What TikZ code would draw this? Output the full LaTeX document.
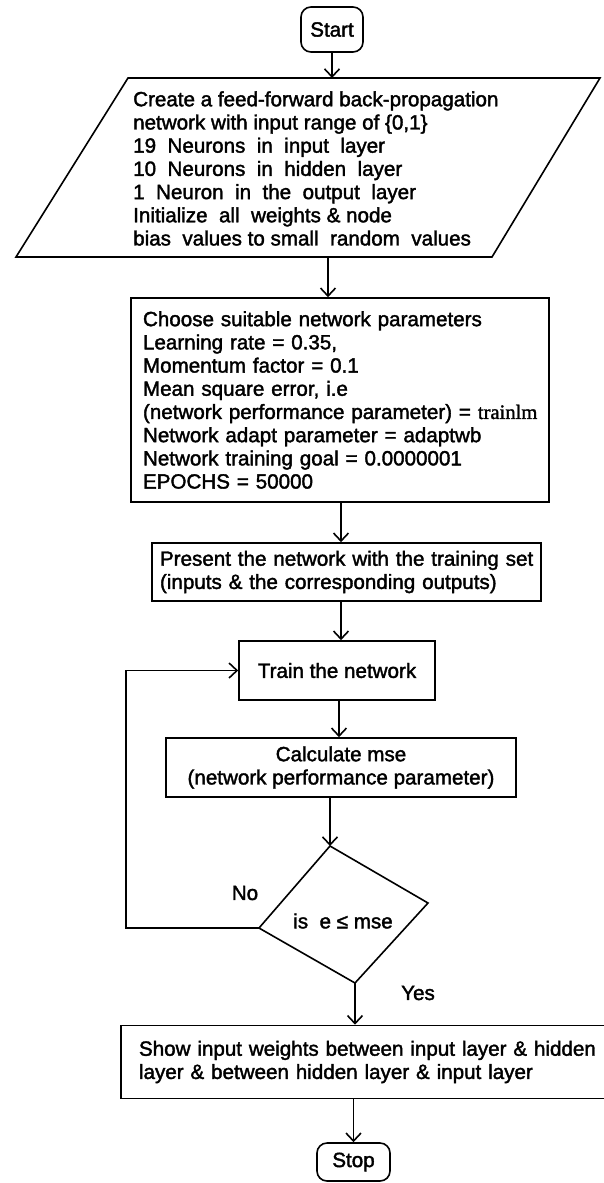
\documentclass[tikz,border=0pt]{standalone}
\usepackage{fontspec}
\setmainfont{Liberation Sans}[FakeBold=1.8]
\newfontfamily\serifx{Liberation Serif}[FakeBold=1.5]
\usetikzlibrary{arrows.meta,calc}
\tikzset{
  ln/.style={line width=1.6pt},
  arr/.style={ln,-{Straight Barb[length=8pt,width=15pt,line width=1.6pt]}},
  boxx/.style={ln,draw,rectangle,inner ysep=0pt,align=left,anchor=center},
  term/.style={ln,draw,rectangle,rounded corners=10pt,inner sep=0pt},
  txt/.style={font=\fontsize{20.6}{23.2}\selectfont}
}
\begin{document}
\begin{tikzpicture}[x=1pt,y=-1pt,txt]
\useasboundingbox (0,0) rectangle (604,1183);
% Start
\node[term,minimum width=62pt,minimum height=45pt] (start) at (332,29.5) {Start};
% parallelogram
\coordinate (ptl) at (128,78);
\coordinate (ptr) at (600,78);
\coordinate (pbr) at (492,257);
\coordinate (pbl) at (16,257);
\draw[ln,line join=miter] (ptl) -- (ptr) -- (pbr) -- (pbl) -- cycle;
\coordinate (ptop) at (332,78);
\coordinate (pbot) at (328,257);
\node[anchor=west,align=left,inner sep=0pt] (ptext) at (133,168.5) {Create a feed-forward back-propagation\\
network with input range of \{0,1\}\\
19~ Neurons~ in~ input~ layer\\
10~ Neurons~ in~ hidden~ layer\\
1~ Neuron~ in~ the~ output~ layer\\
Initialize~ all~ weights \& node\\
bias~ values to small~ random~ values};
% box 2
\node[boxx,minimum width=418pt,minimum height=204pt,text width=394pt,inner xsep=12pt] (params) at (340,400) {Choose suitable network parameters\\
Learning rate = 0.35,\\
Momentum factor = 0.1\\
Mean square error, i.e\\
\mbox{(network performance parameter) = {\serifx trainlm}}\\
Network adapt parameter = adaptwb\\
Network training goal = 0.0000001\\
EPOCHS = 50000};
% present
\node[boxx,minimum width=389pt,minimum height=58pt,text width=373pt,inner xsep=8pt] (present) at (346.5,572) {\mbox{Present the network with the training set}\\
(inputs \& the corresponding outputs)};
% train
\node[boxx,minimum width=196pt,minimum height=59pt,align=center] (train) at (337,670.5) {Train the network};
% calc
\node[boxx,minimum width=350pt,minimum height=59pt,align=center] (calc) at (341,767.5) {Calculate mse\\(network performance parameter)};
% decision
\coordinate (dtop) at (330,846);
\coordinate (dright) at (428,903);
\coordinate (dbot) at (355,983);
\coordinate (dleft) at (259,928);
\draw[ln,line join=miter] (dtop) -- (dright) -- (dbot) -- (dleft) -- cycle;
\node (cond) at (343,921) {is~ e ≤ mse};
\node (no) at (245,893) {No};
\node (yes) at (418,993) {Yes};
% show
\node[boxx,minimum width=510pt,minimum height=73pt,text width=474pt,inner xsep=18pt] (show) at (376,1062) {\mbox{Show input weights between input layer \& hidden}\\
layer \& between hidden layer \& input layer};
% stop
\node[term,minimum width=73pt,minimum height=38pt] (stop) at (353.5,1162) {Stop};
% connectors
\draw[arr] (start.south) -- (ptop);
\draw[arr] (pbot) -- (pbot |- params.north);
\draw[arr] (params.south -| train.north) ++(4,0) coordinate (a1) -- (a1 |- present.north);
\draw[arr] (present.south -| train.north) ++(4,0) coordinate (a2) -- (a2 |- train.north);
\draw[arr] (train.south) ++(2,0) coordinate (a3) -- (a3 |- calc.north);
\draw[arr] (dtop |- calc.south) -- (dtop);
\draw[arr] (dleft) -- (126,928) |- (train.west);
\draw[arr] (dbot) -- (dbot |- show.north);
\draw[arr] (stop.north |- show.south) -- (stop.north);
\end{tikzpicture}
\end{document}
